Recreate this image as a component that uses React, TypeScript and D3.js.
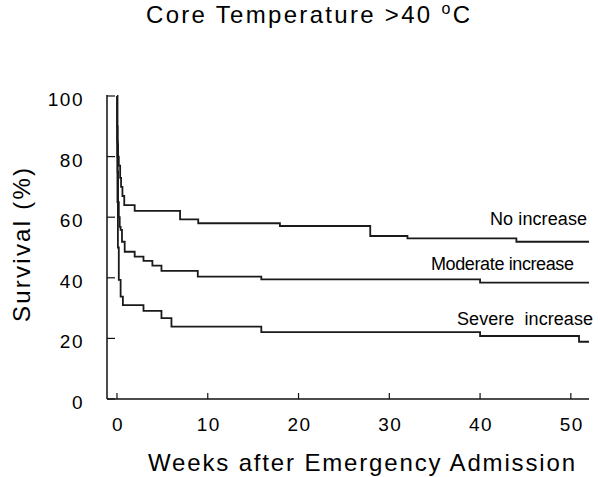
import React from "react";
import * as d3 from "d3";

const title = "Core Temperature >40 ";
const titleSup = "o";
const titleUnit = "C";
const xTitle = "Weeks after Emergency Admission";
const yTitle = "Survival (%)";
const xTicks = [0, 10, 20, 30, 40, 50];
const yTicks = [0, 20, 40, 60, 80, 100];

const noIncrease: [number, number][] = [
  [0, 100], [0.04, 90], [0.08, 84], [0.12, 80], [0.2, 77], [0.35, 73], [0.45, 70],
  [0.6, 67], [0.8, 64], [1.95, 62.1], [6.95, 59.3], [8.95, 58.0], [17.95, 57.1],
  [27.9, 53.8], [32.0, 53.0], [44.0, 51.9], [52, 51.9],
];
const moderateIncrease: [number, number][] = [
  [0, 100], [0.03, 85], [0.07, 75], [0.12, 65], [0.2, 60], [0.3, 56.8], [0.4, 55.8],
  [0.55, 51.9], [0.85, 48.6], [1.95, 47.0], [2.92, 45.6], [3.9, 44.0], [4.9, 42.3],
  [8.9, 40.4], [15.9, 39.5], [40.0, 38.4], [52, 38.4],
];
const severeIncrease: [number, number][] = [
  [0, 100], [0.02, 80], [0.05, 65], [0.1, 50], [0.2, 39.3], [0.4, 33.8], [0.65, 31.0],
  [2.92, 29.1], [4.9, 26.7], [6.0, 23.9], [15.9, 22.1], [40, 20.8], [50.9, 18.9], [52, 18.9],
];
const seriesLabels = ["No increase", "Moderate increase", "Severe  increase"];

export default function App() {
  const x = d3.scaleLinear().domain([-1.1, 52]).range([107, 589]);
  const y = d3.scaleLinear().domain([0, 100]).range([399, 96]);
  const line = d3
    .line<[number, number]>()
    .x((d) => x(d[0]))
    .y((d) => y(d[1]))
    .curve(d3.curveStepAfter);
  const font = "'Liberation Sans', Arial, Helvetica, sans-serif";
  const series = [noIncrease, moderateIncrease, severeIncrease];
  const labelPos = [
    { x: 490, y: 225, len: 97 },
    { x: 431, y: 270, len: 143 },
    { x: 457, y: 325, len: 136 },
  ];
  return (
    <svg
      width={600}
      height={477}
      style={{ position: "absolute", left: 0, top: 0, background: "#fff" }}
      fontFamily={font}
    >
      <rect x={0} y={0} width={600} height={477} fill="#fff" />
      <text x={146} y={23} fontSize={24} textLength={324} lengthAdjust="spacing" fill="#000">
        {title}
        <tspan fontSize={16} dy={-9}>{titleSup}</tspan>
        <tspan dy={9}>{titleUnit}</tspan>
      </text>
      {/* axes */}
      <line x1={107} x2={107} y1={y(100) - 1} y2={399} stroke="#111" strokeWidth={1.5} />
      <line x1={107} x2={589} y1={399} y2={399} stroke="#111" strokeWidth={1.5} />
      {yTicks.map((t) => (
        <g key={"y" + t}>
          <line x1={107} x2={115} y1={y(t)} y2={y(t)} stroke="#111" strokeWidth={1.2} />
          <text x={84} y={y(t) + 10} fontSize={19} textAnchor="end" letterSpacing={1.5} fill="#000">
            {t}
          </text>
        </g>
      ))}
      {xTicks.map((t) => (
        <g key={"x" + t}>
          <line x1={x(t)} x2={x(t)} y1={399} y2={393} stroke="#111" strokeWidth={1.2} />
          <text x={x(t) + 1} y={431} fontSize={19} textAnchor="middle" letterSpacing={1.5} fill="#000">
            {t}
          </text>
        </g>
      ))}
      <text x={148} y={471} fontSize={24} textLength={427} lengthAdjust="spacing" fill="#000">
        {xTitle}
      </text>
      <text
        transform="translate(30,245) rotate(-90)"
        x={-77}
        y={0}
        fontSize={24}
        textLength={154}
        lengthAdjust="spacing"
        fill="#000"
      >
        {yTitle}
      </text>
      {series.map((s, i) => (
        <path key={i} d={line(s) || ""} fill="none" stroke="#1a1a1a" strokeWidth={1.8} />
      ))}
      {seriesLabels.map((l, i) => (
        <text
          key={l}
          x={labelPos[i].x}
          y={labelPos[i].y}
          fontSize={18}
          textLength={labelPos[i].len}
          lengthAdjust="spacing"
          style={{ whiteSpace: "pre" }}
          fill="#000"
        >
          {l}
        </text>
      ))}
    </svg>
  );
}
